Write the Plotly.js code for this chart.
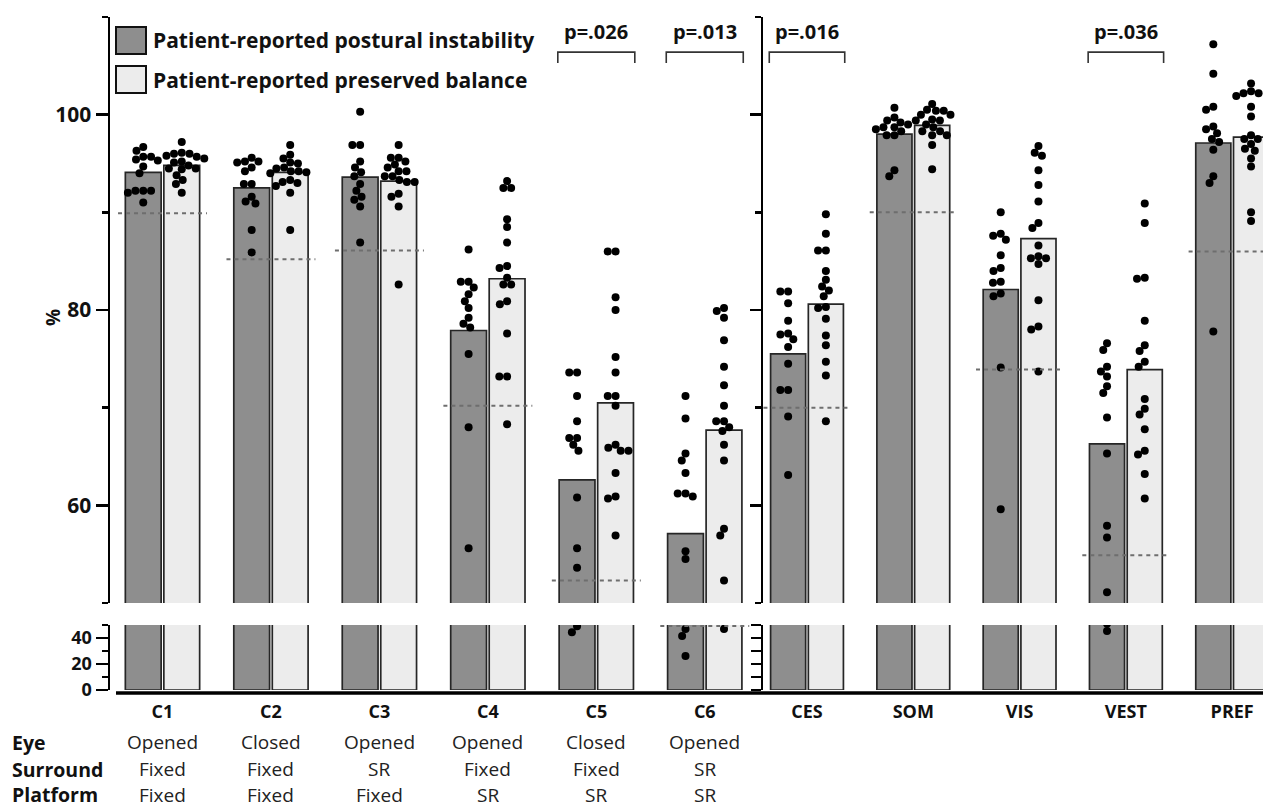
<!DOCTYPE html>
<html>
<head>
<meta charset="utf-8">
<script src="https://cdn.plot.ly/plotly-3.0.1.min.js"></script>
<style>html,body{margin:0;padding:0;background:#fff;}#chart{width:1263px;height:808px;}</style>
</head>
<body>
<div id="chart"></div>
<script>
// ---------------- DATA ----------------
const cats1 = ['C1', 'C2', 'C3', 'C4', 'C5', 'C6'];
const cats2 = ['CES', 'SOM', 'VIS', 'VEST', 'PREF'];
const seriesNames = ['Patient-reported postural instability', 'Patient-reported preserved balance'];

const instabMean1 = [94.1, 92.5, 93.6, 77.9, 62.6, 57.1];
const preservedMean1 = [94.8, 94.1, 93.2, 83.2, 70.5, 67.7];
const instabMean2 = [75.5, 98.0, 82.1, 66.3, 97.1];
const preservedMean2 = [80.6, 98.9, 87.3, 73.9, 97.7];

const normRef1 = [89.9, 85.2, 86.1, 70.2, 52.3, 49.3];
const normRef2 = [70.0, 90.0, 73.9, 54.9, 86.0];

const instabPts1 = [
  [96.7, 96.3, 95.7, 95.3, 95.7, 95.4, 94.7, 94.0, 92.2, 92.2, 92.2, 92.0, 91.0],
  [95.2, 95.2, 95.6, 95.1, 94.6, 94.2, 92.9, 92.9, 91.6, 91.1, 90.9, 88.2, 85.9],
  [100.3, 96.9, 96.9, 95.2, 94.6, 94.1, 93.7, 92.9, 92.2, 91.3, 91.6, 90.6, 86.9],
  [86.2, 82.9, 82.9, 82.3, 81.6, 80.9, 80.2, 79.2, 78.6, 78.2, 75.5, 68.0, 55.6],
  [73.6, 73.6, 71.2, 68.6, 66.9, 66.9, 66.2, 65.6, 60.8, 55.6, 53.6, 49.0, 44.5],
  [71.2, 68.9, 65.3, 64.6, 63.3, 61.2, 61.2, 60.9, 55.3, 54.5, 46.9, 41.5, 26.2]
];
const preservedPts1 = [
  [97.2, 96.0, 96.1, 96.0, 95.8, 95.7, 95.5, 95.2, 95.1, 94.8, 94.5, 94.5, 94.4, 93.8, 93.3, 92.9, 92.0],
  [96.9, 95.9, 95.5, 95.1, 95.0, 94.6, 94.5, 94.2, 94.2, 94.1, 94.0, 93.3, 93.1, 93.0, 92.7, 92.0, 88.2],
  [96.9, 95.6, 95.6, 95.2, 94.9, 94.6, 94.2, 94.2, 93.7, 93.7, 93.1, 93.1, 93.3, 91.9, 91.6, 90.6, 82.6],
  [93.2, 92.5, 92.5, 89.3, 88.5, 86.9, 84.5, 84.3, 83.3, 82.6, 82.6, 80.9, 80.6, 77.6, 73.2, 73.2, 68.3],
  [86.0, 86.0, 81.3, 80.0, 75.2, 73.6, 71.2, 71.2, 70.2, 66.2, 65.9, 65.6, 65.6, 63.3, 60.9, 60.7, 56.9],
  [80.2, 79.9, 79.2, 76.9, 74.2, 72.3, 70.2, 68.6, 68.6, 68.0, 67.6, 66.2, 64.6, 57.6, 56.9, 52.3, 46.9]
];
const instabPts2 = [
  [81.9, 81.9, 80.7, 78.9, 77.6, 77.5, 77.0, 76.2, 74.5, 71.8, 71.8, 69.1, 63.1],
  [100.7, 99.7, 99.4, 99.2, 99.0, 98.7, 98.7, 98.5, 98.3, 97.9, 97.9, 94.3, 93.7],
  [90.0, 87.8, 87.6, 87.2, 85.6, 84.3, 84.0, 82.9, 82.8, 81.7, 81.4, 74.1, 59.6],
  [76.6, 75.9, 74.2, 73.7, 73.2, 72.2, 71.5, 69.0, 65.3, 57.9, 56.7, 51.1, 45.4],
  [107.2, 104.2, 100.8, 100.5, 98.8, 98.5, 98.1, 97.5, 97.2, 96.4, 93.7, 93.0, 77.8]
];
const preservedPts2 = [
  [89.8, 87.8, 86.1, 86.1, 84.0, 83.1, 82.4, 82.0, 81.4, 80.3, 80.2, 79.1, 77.4, 76.4, 74.7, 73.3, 68.6],
  [101.1, 100.5, 100.4, 100.4, 100.0, 100.0, 99.5, 99.4, 99.4, 99.0, 98.7, 98.3, 98.3, 97.9, 97.9, 96.9, 94.4],
  [96.8, 96.1, 95.8, 94.3, 92.8, 91.1, 88.9, 88.4, 86.6, 85.5, 85.3, 85.3, 84.7, 81.0, 78.3, 78.0, 73.7],
  [90.9, 88.9, 83.3, 83.2, 78.9, 76.4, 75.8, 74.7, 74.2, 70.9, 69.9, 69.3, 67.8, 65.6, 65.2, 63.2, 60.7],
  [103.2, 102.4, 102.2, 102.2, 101.9, 100.8, 99.8, 97.9, 97.5, 97.5, 97.0, 96.5, 96.3, 95.5, 94.7, 90.0, 89.1]
];

// p-values: [category, text]
const pvals1 = [['C5', 'p=.026'], ['C6', 'p=.013']];
const pvals2 = [['CES', 'p=.016'], ['VEST', 'p=.036']];

const condRowLabels = ['Eye', 'Surround', 'Platform'];
const condEye = ['Opened', 'Closed', 'Opened', 'Opened', 'Closed', 'Opened'];
const condSurround = ['Fixed', 'Fixed', 'SR', 'Fixed', 'Fixed', 'SR'];
const condPlatform = ['Fixed', 'Fixed', 'Fixed', 'SR', 'SR', 'SR'];

// ---------------- LAYOUT HELPERS ----------------
const W = 1263, H = 808, MT = 17, MB = 118;
const PH = H - MT - MB;
const PX = x => x / W;
const PY = y => (H - MB - y) / PH;
const FONT = 'Open Sans, Noto Sans, sans-serif';
const DARK = '#8e8e8e', LIGHT = '#ececec', EDGE = '#262626';

const lowerDom = [0, PY(625)];
const upperDom = [PY(603), 1];
const BARGAP = 0.29, BARGROUPGAP = 0.07;
const HALF = (1 - BARGAP) / 4;   // offset of each bar centre from the category centre

const panels = [
  {cats: cats1, im: instabMean1, pm: preservedMean1, ip: instabPts1, pp: preservedPts1, ref: normRef1,
   xl: 'x', yl: 'y', xu: 'x3', yu: 'y3', range: [-0.484, 5.537], dom: [PX(110), PX(763)]},
  {cats: cats2, im: instabMean2, pm: preservedMean2, ip: instabPts2, pp: preservedPts2, ref: normRef2,
   xl: 'x2', yl: 'y2', xu: 'x4', yu: 'y4', range: [-0.414, 4.29], dom: [PX(763), 1]}
];

// pixel scale helpers for the swarm layout
const upperPxPerUnit = PH * (upperDom[1] - upperDom[0]) / 60;
const lowerPxPerUnit = PH * (lowerDom[1] - lowerDom[0]) / 50;
function pxPerX(p) { return W * (p.dom[1] - p.dom[0]) / (p.range[1] - p.range[0]); }
function yPix(v) { return v >= 50 ? (v - 50) * upperPxPerUnit : -1000 + v * lowerPxPerUnit; }

// beeswarm: offsets (in x units) so that dots of diameter D do not overlap
function swarm(values, ppx, D) {
  const idx = values.map((v, i) => i).sort((a, b) => values[b] - values[a]);
  const placed = [];
  const off = new Array(values.length).fill(0);
  idx.forEach(i => {
    const y = yPix(values[i]);
    const cands = [0];
    placed.forEach(q => {
      const dy = Math.abs(q.y - y);
      if (dy < D) { const dx = Math.sqrt(D * D - dy * dy); cands.push(q.x - dx, q.x + dx); }
    });
    cands.sort((a, b) => Math.abs(a) - Math.abs(b) || a - b);
    let chosen = 0;
    for (const c of cands) {
      if (placed.every(q => (q.x - c) ** 2 + (q.y - y) ** 2 >= D * D - 1e-6)) { chosen = c; break; }
    }
    placed.push({x: chosen, y: y});
    off[i] = chosen / ppx;
  });
  return off;
}

const traces = [];
panels.forEach(p => {
  const xi = p.cats.map((c, i) => i);
  [[p.xl, p.yl], [p.xu, p.yu]].forEach(([xa, ya]) => {
    traces.push({type: 'bar', x: xi, y: p.im, xaxis: xa, yaxis: ya, name: seriesNames[0],
      marker: {color: DARK, line: {color: EDGE, width: 1.7}}, showlegend: false, hoverinfo: 'y'});
    traces.push({type: 'bar', x: xi, y: p.pm, xaxis: xa, yaxis: ya, name: seriesNames[1],
      marker: {color: LIGHT, line: {color: EDGE, width: 1.7}}, showlegend: false, hoverinfo: 'y'});
  });
});
panels.forEach(p => {
  const ppx = pxPerX(p);
  [p.ip, p.pp].forEach((pts, k) => {
    const xs = [], ys = [];
    pts.forEach((vals, i) => {
      const centre = i + (k === 0 ? -HALF : HALF);
      const off = swarm(vals, ppx, 7.8);
      vals.forEach((v, j) => { xs.push(centre + off[j]); ys.push(v); });
    });
    [[p.xl, p.yl], [p.xu, p.yu]].forEach(([xa, ya]) => {
      traces.push({type: 'scatter', mode: 'markers', x: xs, y: ys, xaxis: xa, yaxis: ya, name: seriesNames[k],
        marker: {color: '#000', size: 8}, cliponaxis: true, showlegend: false, hoverinfo: 'y'});
    });
  });
});

const shapes = [];
const annotations = [];

// normative reference dashed lines
panels.forEach(p => {
  p.ref.forEach((v, i) => {
    const upper = v >= 50;
    shapes.push({type: 'line', xref: upper ? p.xu : p.xl, yref: upper ? p.yu : p.yl,
      x0: i - 0.41, x1: i + 0.41, y0: v, y1: v,
      line: {color: '#6e6e6e', width: 2, dash: '4px,4px'}});
  });
});

// p-value brackets
[[pvals1, panels[0]], [pvals2, panels[1]]].forEach(([pv, p]) => {
  pv.forEach(([cat, txt]) => {
    const i = p.cats.indexOf(cat);
    const a = i - 2 * HALF, b = i + 2 * HALF;
    shapes.push({type: 'path', xref: p.xu, yref: p.yu,
      path: `M ${a} 105.3 L ${a} 106.4 L ${b} 106.4 L ${b} 105.3`,
      line: {color: '#333', width: 1.6}});
    annotations.push({xref: p.xu, yref: p.yu, x: i, y: 108.5, text: txt, showarrow: false,
      xanchor: 'center', yanchor: 'middle', font: {family: FONT, size: 20, weight: 'bold', color: '#111'}});
  });
});

// legend (drawn)
[[27, 54, DARK, seriesNames[0]], [66, 93, LIGHT, seriesNames[1]]].forEach(([t, b, col, name]) => {
  shapes.push({type: 'rect', xref: 'paper', yref: 'paper', x0: PX(116), x1: PX(146), y0: PY(b), y1: PY(t),
    fillcolor: col, line: {color: '#111', width: 2}});
  annotations.push({xref: 'paper', yref: 'paper', x: PX(151), y: PY((t + b) / 2), text: name, showarrow: false,
    xanchor: 'left', yanchor: 'middle', font: {family: FONT, size: 21, weight: 'bold', color: '#111'}});
});

// thick x baseline
shapes.push({type: 'line', xref: 'paper', yref: 'paper', x0: PX(116), x1: 1, y0: PY(693), y1: PY(693),
  line: {color: '#000', width: 3.5}});

// condition table
const rowsY = [742, 769, 795];
[condEye, condSurround, condPlatform].forEach((row, r) => {
  annotations.push({xref: 'paper', yref: 'paper', x: PX(10), y: PY(rowsY[r]), text: condRowLabels[r], showarrow: false,
    xanchor: 'left', yanchor: 'middle', font: {family: FONT, size: 19.5, weight: 'bold', color: '#111'}});
  row.forEach((t, i) => {
    annotations.push({xref: 'x', yref: 'paper', x: i, y: PY(rowsY[r]), text: t, showarrow: false,
      xanchor: 'center', yanchor: 'middle', font: {family: FONT, size: 19, color: '#222'}});
  });
});

// y axis title
annotations.push({xref: 'paper', yref: 'paper', x: PX(53), y: PY(318), text: '%', showarrow: false, textangle: -90,
  xanchor: 'center', yanchor: 'middle', font: {family: FONT, size: 19, weight: 'bold', color: '#111'}});

const tickFont = {family: FONT, size: 21, weight: 'bold', color: '#111'};
const tickFontSmall = {family: FONT, size: 18, weight: 'bold', color: '#111'};
const catFont = {family: FONT, size: 18, weight: 'bold', color: '#111'};
const xCommon = {type: 'linear', showgrid: false, zeroline: false, showline: false, ticks: '', fixedrange: true};
const yCommon = {showgrid: false, zeroline: false, showline: true, linecolor: '#000', linewidth: 2.5,
  ticks: 'outside', tickwidth: 2.5, tickcolor: '#000', fixedrange: true};

const layout = {
  width: W, height: H,
  margin: {l: 0, r: 0, t: MT, b: MB, pad: 0},
  paper_bgcolor: '#fff', plot_bgcolor: 'rgba(0,0,0,0)',
  barmode: 'group', bargap: BARGAP, bargroupgap: BARGROUPGAP,
  showlegend: false,
  font: {family: FONT, color: '#111'},
  xaxis: Object.assign({}, xCommon, {domain: panels[0].dom, anchor: 'y', range: panels[0].range,
    tickmode: 'array', tickvals: cats1.map((c, i) => i), ticktext: cats1, tickfont: catFont, ticklabelstandoff: 9}),
  xaxis3: Object.assign({}, xCommon, {domain: panels[0].dom, anchor: 'y3', matches: 'x', showticklabels: false}),
  xaxis2: Object.assign({}, xCommon, {domain: panels[1].dom, anchor: 'y2', range: panels[1].range,
    tickmode: 'array', tickvals: cats2.map((c, i) => i), ticktext: cats2, tickfont: catFont, ticklabelstandoff: 9}),
  xaxis4: Object.assign({}, xCommon, {domain: panels[1].dom, anchor: 'y4', matches: 'x2', showticklabels: false}),
  yaxis: Object.assign({}, yCommon, {domain: lowerDom, anchor: 'x', range: [0, 50],
    tickmode: 'array', tickvals: [0, 20, 40], ticklen: 12, tickfont: tickFontSmall,
    minor: {tickmode: 'array', tickvals: [10, 30, 50], ticklen: 6, tickwidth: 2.5, tickcolor: '#000', ticks: 'outside'}}),
  yaxis3: Object.assign({}, yCommon, {domain: upperDom, anchor: 'x3', range: [50, 110],
    tickmode: 'array', tickvals: [60, 80, 100], ticklen: 12, tickfont: tickFont,
    minor: {tickmode: 'array', tickvals: [50, 70, 90, 110], ticklen: 6, tickwidth: 2.5, tickcolor: '#000', ticks: 'outside'}}),
  yaxis2: Object.assign({}, yCommon, {domain: lowerDom, anchor: 'x2', range: [0, 50],
    tickmode: 'array', tickvals: [0, 10, 20, 30, 40, 50], ticklen: 10, showticklabels: false}),
  yaxis4: Object.assign({}, yCommon, {domain: upperDom, anchor: 'x4', range: [50, 110],
    tickmode: 'array', tickvals: [60, 80, 100], ticklen: 11, showticklabels: false,
    minor: {tickmode: 'array', tickvals: [50, 70, 90, 110], ticklen: 6, tickwidth: 2.5, tickcolor: '#000', ticks: 'outside'}}),
  shapes: shapes,
  annotations: annotations
};

Plotly.newPlot('chart', traces, layout, {staticPlot: true, displayModeBar: false});
</script>
</body>
</html>
